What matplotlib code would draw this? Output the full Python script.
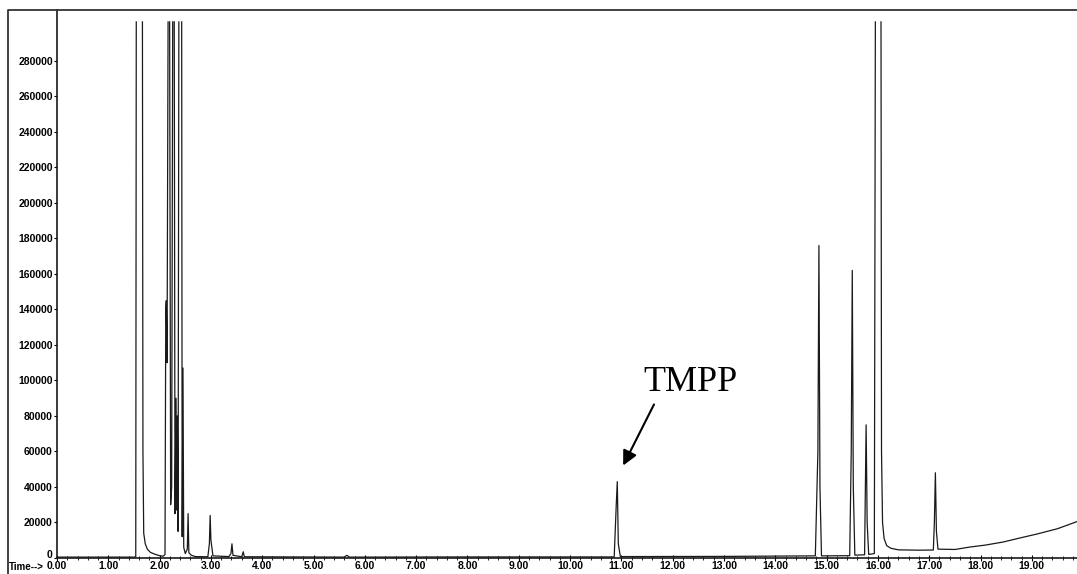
import numpy as np
import matplotlib
matplotlib.use("Agg")
import matplotlib.pyplot as plt
from matplotlib.lines import Line2D
from matplotlib.ticker import MultipleLocator
from matplotlib.transforms import ScaledTranslation

# フォント
matplotlib.rcParams['font.family'] = ['Liberation Sans', 'DejaVu Sans']

nan = np.nan

# クロマトグラムの読み取り値（保持時間 [min], 強度）; nan = スケールアウト
rt = [0.00, 0.80, 1.50, 1.535, 1.545, nan, 1.665, 1.675, 1.69, 1.72, 1.76, 1.82, 1.90, 2.00, 2.07,
      2.105, 2.12, 2.13, 2.145, 2.165, nan, 2.195, 2.215, 2.235, 2.255, nan, 2.285, 2.30, 2.32,
      2.335, 2.345, 2.36, 2.375, nan, 2.43, 2.44, 2.455, 2.47, 2.50, 2.54, 2.555, 2.57, 2.62,
      2.70, 2.94, 2.97, 2.985, 3.00, 3.04, 3.35, 3.39, 3.41, 3.43, 3.60, 3.63, 3.65,
      5.60, 5.65, 5.70, 8.00, 10.86, 10.90, 10.92, 10.94, 10.98, 13.00, 14.78,
      14.83, 14.85, 14.87, 14.90, 15.45, 15.48, 15.50, 15.52, 15.55, 15.74, 15.77, 15.79,
      15.82, 15.93, 15.95, nan, 16.06, 16.07, 16.09, 16.12, 16.17, 16.25, 16.40, 16.80,
      17.08, 17.10, 17.12, 17.14, 17.17, 17.50, 17.80, 18.10, 18.44, 18.80, 19.10, 19.50, 19.88]
signal = [500, 500, 500, 600, 302000, nan, 302000, 60000, 14000, 8000, 5000, 3200, 2200, 1300, 1000,
          2000, 140000, 145000, 110000, 302000, nan, 302000, 30000, 40000, 302000, nan, 302000, 25000, 90000,
          27000, 80000, 15000, 302000, nan, 302000, 12000, 107000, 6000, 2500, 5000, 25000, 3000, 1500,
          800, 700, 8000, 24000, 10000, 1200, 800, 2500, 8000, 1500, 700, 3500, 700,
          500, 1500, 500, 600, 600, 30000, 43000, 8000, 800, 900, 1200,
          60000, 176000, 40000, 1200, 1300, 60000, 162000, 40000, 1600, 1800, 75000, 20000,
          2000, 2500, 302000, nan, 302000, 60000, 20000, 11000, 7000, 5500, 4600, 4400,
          4500, 20000, 48000, 15000, 5000, 4800, 6200, 7300, 9000, 11500, 13500, 16500, 20500]

y_ticks = list(range(0, 280001, 20000))
x_ticks = list(range(0, 20))
x_labels = ["%.2f" % t for t in x_ticks]

W, H = 1077, 574
fig = plt.figure(figsize=(W / 100, H / 100), dpi=100)
ax = fig.add_axes([57 / W, (H - 558) / H, (W - 57) / W, (558 - 10) / H])

ax.plot(rt, signal, color="#1a1a1a", lw=0.9)

ax.set_xlim(0, 19.88)
ax.set_ylim(0, 308700)
ax.set_yticks(y_ticks)
ax.set_yticklabels([str(v) for v in y_ticks])
ax.set_xticks(x_ticks)
ax.set_xticklabels(x_labels)
ax.xaxis.set_minor_locator(MultipleLocator(0.2))

for s in ["top", "right"]:
    ax.spines[s].set_visible(False)
for s in ["left", "bottom"]:
    ax.spines[s].set_linewidth(1.2)
    ax.spines[s].set_color("#1a1a1a")

ax.tick_params(axis="y", direction="out", length=2, pad=1, labelsize=7.5)
ax.tick_params(axis="x", which="major", direction="inout", length=4, pad=0.5, labelsize=7.5)
ax.tick_params(axis="x", which="minor", direction="inout", length=3)
for lab in ax.get_xticklabels() + ax.get_yticklabels():
    lab.set_fontweight("bold")

# "0" のラベルを少し上へ（x軸ラベルと重ならないように）
ylab0 = ax.get_yticklabels()[0]
ylab0.set_transform(ylab0.get_transform() + ScaledTranslation(0, 3 / 72, fig.dpi_scale_trans))

fig.text(9 / W, (H - 567) / H, "Time-->", fontsize=7, fontweight="bold", ha="left", va="center")

# 外枠（スキャン画像の枠線）
frame = Line2D([8 / W, 8 / W, 1.0], [0.0, (H - 10) / H, (H - 10) / H],
               transform=fig.transFigure, color="#333333", lw=1.3)
fig.add_artist(frame)

# TMPP 注記
ax.text(12.34, 98600, "TMPP", family="Liberation Serif", fontsize=26, ha="center", va="center")
ax.annotate("", xy=(11.01, 50700), xytext=(11.66, 87900),
            arrowprops=dict(arrowstyle="-|>", color="black", lw=1.5, mutation_scale=22))

fig.savefig("out.png", dpi=100)
